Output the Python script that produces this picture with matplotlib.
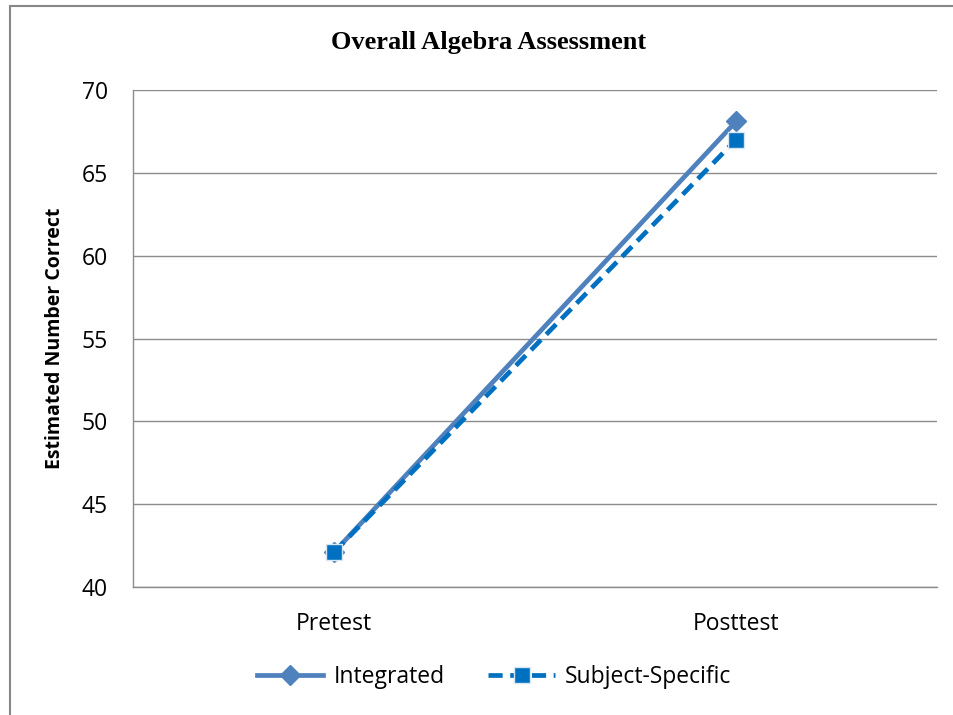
import matplotlib.pyplot as plt
import matplotlib.patches as mpatches

# Data
tests = ['Pretest', 'Posttest']
integrated = [42.1, 68.1]
subject_specific = [42.1, 67.0]
y_ticks = [40, 45, 50, 55, 60, 65, 70]

fig = plt.figure(figsize=(9.54, 7.15), dpi=100)
ax = fig.add_axes([0.1394, 0.1790, 0.8428, 0.6951])

x = [0.5, 1.5]
ax.plot(x, integrated, color='#4F81BD', lw=3.4, marker='D', markersize=10,
        markerfacecolor='#4F81BD', markeredgecolor='#4F81BD', label='Integrated', zorder=3)
ax.plot(x, subject_specific, color='#0070C0', lw=3.4, ls=(0, (3, 1.6)), marker='s', markersize=12,
        markerfacecolor='#0070C0', markeredgecolor='#D6E6F5', markeredgewidth=1,
        label='Subject-Specific', zorder=4)

ax.set_xlim(0, 2)
ax.set_ylim(40, 70)
ax.set_xticks(x)
ax.set_xticklabels(tests, fontsize=16.5, fontfamily='Open Sans')
ax.set_yticks(y_ticks)
ax.set_yticklabels([str(v) for v in y_ticks], fontsize=16.5, fontfamily='Open Sans')
ax.tick_params(axis='x', length=0, pad=18)
ax.tick_params(axis='y', length=0, pad=18)
ax.yaxis.grid(True, color='#8C8C8C', lw=1)
ax.set_axisbelow(True)
for side in ['top', 'right']:
    ax.spines[side].set_visible(False)
for side in ['left', 'bottom']:
    ax.spines[side].set_color('#8C8C8C')
    ax.spines[side].set_linewidth(1)

ax.set_ylabel('Estimated Number Correct', fontsize=14, fontweight='bold', fontfamily='Open Sans', labelpad=12)
fig.text(0.512, 0.94, 'Overall Algebra Assessment', ha='center', va='center',
         fontsize=19, fontweight='bold', fontfamily='Liberation Serif')

leg = fig.legend(loc='center', bbox_to_anchor=(0.518, 0.053), ncol=2, frameon=False,
                 prop={'family': 'Open Sans', 'size': 16.5}, handlelength=2.9, columnspacing=1.9,
                 handletextpad=0.45)

# outer chart frame
frame = mpatches.Rectangle((10 / 954, -0.02), 1.0, (715 - 6) / 715 + 0.02, transform=fig.transFigure,
                           fill=False, edgecolor='#888888', lw=1.5)
fig.add_artist(frame)

fig.savefig('out.png', dpi=100)
